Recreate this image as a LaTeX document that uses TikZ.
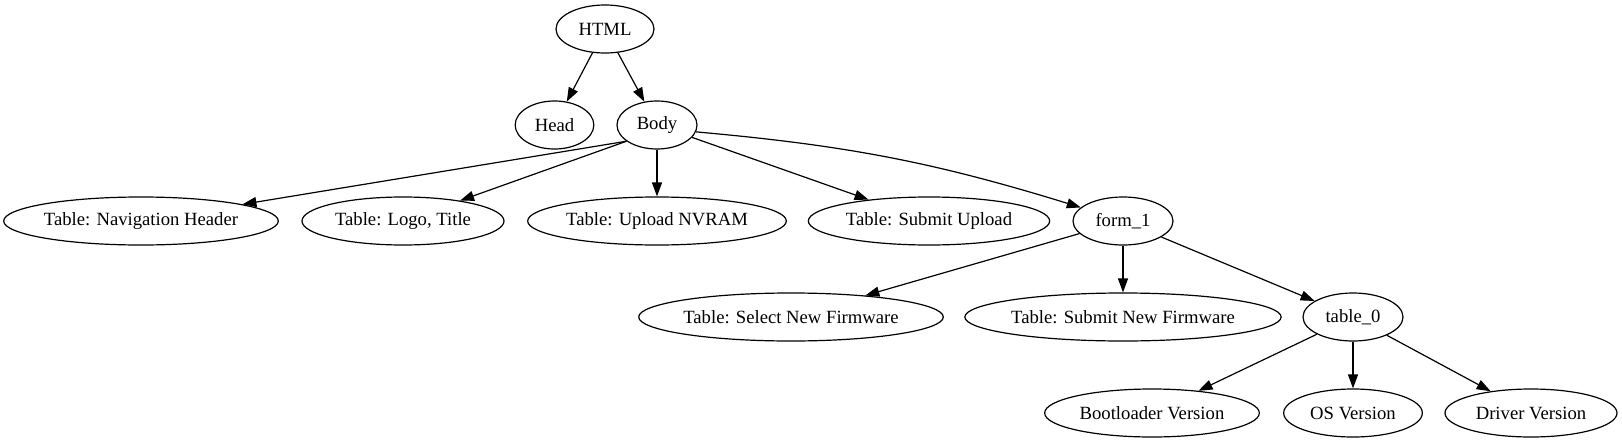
\documentclass[tikz,border=0pt]{standalone}
\usepackage{fontspec}
\setmainfont{Liberation Serif}
\usetikzlibrary{shapes.geometric,arrows.meta}

\begin{document}
\begin{tikzpicture}[x=0.75pt,y=-0.75pt,
  treeNode/.style={draw,ellipse,line width=0.9pt,minimum height=36pt,inner sep=0pt,
    font=\fontsize{14}{16}\selectfont},
  treeEdge/.style={line width=0.9pt,-{Triangle[length=10.5pt,width=7.5pt]}}]
\useasboundingbox (0,0) rectangle (1622,443);
% rank 0 and 1
\node[treeNode,minimum width=73.5pt] (html) at (605,29) {HTML};
\node[treeNode,minimum width=59pt] (head) at (554.5,125) {Head};
\node[treeNode,minimum width=60pt] (body) at (657,125) {Body};
% rank 2
\node[treeNode,minimum width=206pt] (navHeader) at (141,221) {Table: Navigation Header};
\node[treeNode,minimum width=151.5pt] (logoTitle) at (403,221) {Table: Logo, Title};
\node[treeNode,minimum width=194pt] (uploadNvram) at (657,221) {Table: Upload NVRAM};
\node[treeNode,minimum width=181pt] (submitUpload) at (929,221) {Table: Submit Upload};
\node[treeNode,minimum width=75pt] (formOne) at (1123,221) {form\_1};
% rank 3
\node[treeNode,minimum width=228pt] (selectFw) at (791,317) {Table: Select New Firmware};
\node[treeNode,minimum width=235.5pt] (submitFw) at (1123,317) {Table: Submit New Firmware};
\node[treeNode,minimum width=75pt] (tableZero) at (1353,317) {table\_0};
% rank 4
\node[treeNode,minimum width=161pt] (bootVer) at (1152,413) {Bootloader Version};
\node[treeNode,minimum width=104pt] (osVer) at (1353,413) {OS Version};
\node[treeNode,minimum width=129pt] (driverVer) at (1531,413) {Driver Version};

\foreach \src/\dst in {html/head,html/body,body/uploadNvram,body/submitUpload,
    formOne/selectFw,formOne/submitFw,formOne/tableZero,
    tableZero/bootVer,tableZero/osVer,tableZero/driverVer}
  \draw[treeEdge] (\src) -- (\dst);
\draw[treeEdge] (body.-152) -- (navHeader);
\draw[treeEdge] (body.-152) -- (logoTitle);
\draw[treeEdge] (body.-10) to[bend left=6] (formOne);
\end{tikzpicture}
\end{document}
